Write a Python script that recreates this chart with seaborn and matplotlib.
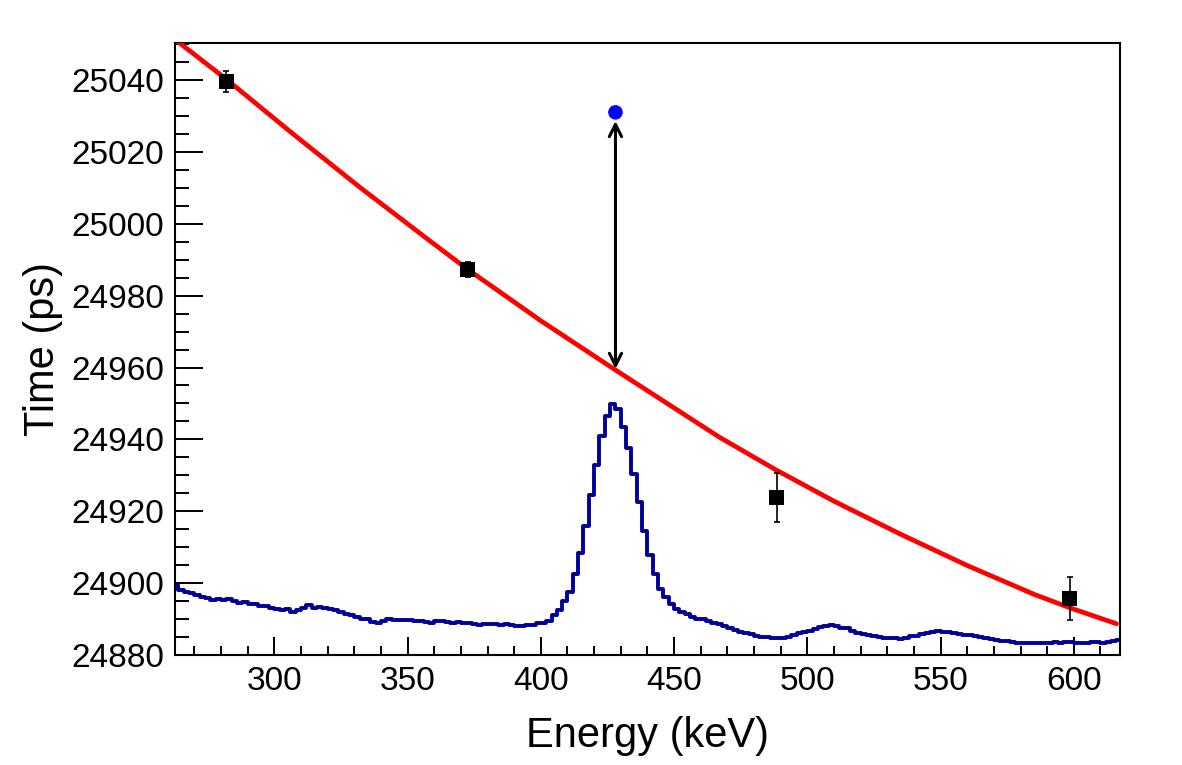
import numpy as np
import pandas as pd
import matplotlib
matplotlib.use("Agg")
import matplotlib.pyplot as plt
import seaborn as sns

# energy spectrum (scaled onto the time axis), 2 keV bins from 262 keV
hist_start = 262
hist_width = 2
hist_vals = [
    24899.5, 24898.0, 24897.6, 24897.2, 24896.6, 24896.0, 24895.8, 24895.2, 24895.6, 24895.3,
    24895.5, 24894.9, 24894.6, 24894.7, 24894.2, 24894.3, 24893.5, 24893.6, 24893.0, 24892.9,
    24892.6, 24892.7, 24892.0, 24892.6, 24893.2, 24893.9, 24893.1, 24893.3, 24893.0, 24892.8,
    24892.5, 24891.9, 24891.4, 24891.0, 24890.6, 24890.1, 24889.9, 24889.2, 24889.0, 24889.4,
    24889.9, 24889.7, 24889.8, 24889.6, 24889.7, 24889.4, 24889.5, 24889.2, 24889.0, 24889.4,
    24889.5, 24889.2, 24889.0, 24889.1, 24888.8, 24888.8, 24888.6, 24888.3, 24888.5, 24888.7,
    24888.5, 24888.3, 24888.6, 24888.4, 24888.2, 24888.0, 24888.3, 24888.4, 24888.8, 24889.0,
    24889.4, 24891.0, 24892.6, 24894.9, 24897.5, 24902.5, 24908.5, 24916.0, 24924.5, 24933.0,
    24941.0, 24946.5, 24949.8, 24948.5, 24943.5, 24937.5, 24930.5, 24922.5, 24914.5, 24907.8,
    24902.5, 24898.5, 24896.2, 24894.2, 24892.8, 24892.0, 24891.4, 24890.5, 24890.0, 24889.9,
    24889.5, 24888.9, 24888.5, 24888.0, 24887.4, 24887.0, 24886.5, 24886.1, 24885.8, 24885.4,
    24885.1, 24884.9, 24884.8, 24884.7, 24884.8, 24885.1, 24885.6, 24886.0, 24886.4, 24886.8,
    24887.3, 24887.7, 24888.1, 24888.3, 24888.0, 24887.6, 24887.4, 24886.8, 24886.2, 24885.9,
    24885.6, 24885.3, 24885.0, 24884.8, 24884.7, 24884.6, 24884.5, 24884.8, 24885.2, 24885.4,
    24885.8, 24886.1, 24886.3, 24886.6, 24886.4, 24886.3, 24886.1, 24885.9, 24885.7, 24885.6,
    24885.2, 24884.9, 24884.7, 24884.4, 24884.2, 24884.0, 24883.8, 24883.6, 24883.4, 24883.3,
    24883.4, 24883.3, 24883.2, 24883.4, 24883.3, 24883.5, 24883.4, 24883.5, 24883.6, 24883.4,
    24883.2, 24883.3, 24883.5, 24883.6, 24883.4, 24883.7, 24884.0, 24884.2,
]

# measured timing points
pt_energy = [282, 372.5, 488.5, 598.5]
pt_time = [25039.6, 24987.3, 24923.8, 24895.8]
pt_err = [3.0, 2.0, 6.8, 6.0]

# fitted curve
fit_energy = [262.7, 282, 307, 332, 357, 372, 400, 428, 467, 488, 510, 535, 560, 585, 599, 616]
fit_time = [25051.3, 25040.2, 25025.0, 25010.2, 24996.0, 24987.6, 24973.0, 24959.3,
            24940.6, 24931.6, 24922.8, 24913.6, 24904.9, 24896.9, 24893.0, 24888.7]

# the walk-corrected point and the arrow
peak_energy = 428
peak_time = 25031
arrow_top = 25028.6
arrow_bottom = 24959.6

sns.set_style("white")
plt.rcParams['font.family'] = ['Liberation Sans', 'DejaVu Sans']
plt.rcParams['text.color'] = 'black'
plt.rcParams['axes.labelcolor'] = 'black'

fig = plt.figure(figsize=(11.82, 7.65), dpi=100)
ax = fig.add_axes([0.148, 0.1438, 0.7995, 0.8])

edges = hist_start + hist_width * np.arange(len(hist_vals) + 1)
hist_df = pd.DataFrame({"E": edges, "t": hist_vals + [hist_vals[-1]]})
sns.lineplot(data=hist_df, x="E", y="t", drawstyle="steps-post", color="#000099",
             linewidth=2.8, ax=ax, zorder=2)

fit_df = pd.DataFrame({"E": fit_energy, "t": fit_time})
sns.lineplot(data=fit_df, x="E", y="t", color="#ff0000", linewidth=3.4, ax=ax, zorder=3)

ax.errorbar(pt_energy, pt_time, yerr=pt_err, fmt="none", ecolor="black",
            elinewidth=1.2, capsize=2, capthick=1.2, zorder=4)
pts_df = pd.DataFrame({"E": pt_energy, "t": pt_time})
sns.scatterplot(data=pts_df, x="E", y="t", marker="s", color="black", s=120,
                edgecolor="none", ax=ax, zorder=5)

ax.annotate("", xy=(peak_energy, arrow_top), xytext=(peak_energy, arrow_bottom),
            arrowprops=dict(arrowstyle="<->", color="black", lw=2.2,
                            mutation_scale=22, shrinkA=0, shrinkB=0), zorder=6)
sns.scatterplot(x=[peak_energy], y=[peak_time], marker="o", color="#0000ff", s=110,
                edgecolor="none", ax=ax, zorder=7)

ax.set_xlim(262.7, 617.3)
ax.set_ylim(24880, 25050.3)
ax.set_xticks([300, 350, 400, 450, 500, 550, 600])
ax.set_xticks(np.arange(270, 617, 10), minor=True)
ax.set_yticks(np.arange(24880, 25041, 20))
ax.set_yticks(np.arange(24880, 25051, 5), minor=True)

ax.tick_params(axis="both", which="both", direction="in", width=1.4, colors="black",
               labelsize=24, bottom=True, left=True, top=False, right=False)
ax.tick_params(axis="x", which="major", length=13, pad=8)
ax.tick_params(axis="x", which="minor", length=6.5)
ax.tick_params(axis="y", which="major", length=20, pad=8)
ax.tick_params(axis="y", which="minor", length=10)

for side in ax.spines.values():
    side.set_linewidth(1.5)
    side.set_color("black")

ax.set_xlabel("Energy (keV)", fontsize=30, color="black")
ax.set_ylabel("Time (ps)", fontsize=30, color="black")
ax.xaxis.set_label_coords(0.5, -0.10)
ax.yaxis.set_label_coords(-0.118, 0.5)

fig.savefig("out.png", dpi=100)
